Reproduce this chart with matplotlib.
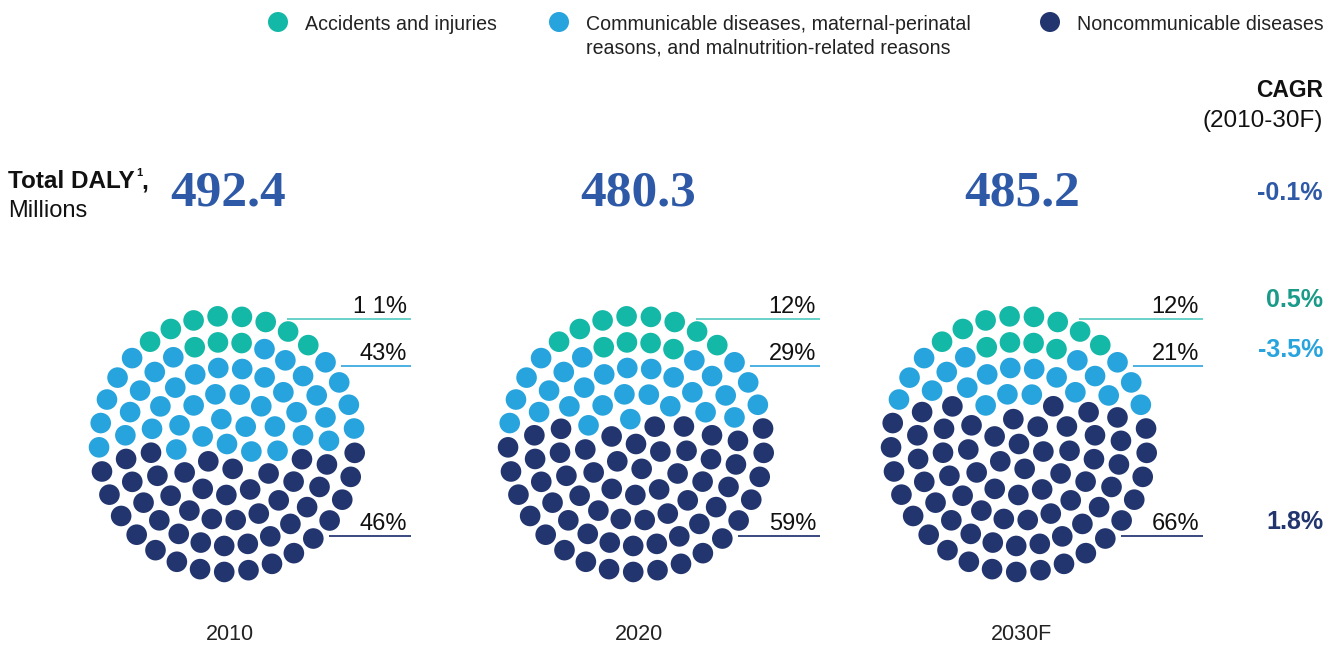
import numpy as np
import matplotlib.pyplot as plt
from matplotlib.patches import Circle

plt.rcParams['font.family'] = ['Liberation Sans', 'DejaVu Sans']

# DALY totals and shares by cause group
years = ['2010', '2020', '2030F']
total_daly = ['492.4', '480.3', '485.2']
share_accidents = [11, 12, 12]
share_communicable = [43, 29, 21]
share_noncommunicable = [46, 59, 66]
share_labels = [['1 1%', '43%', '46%'], ['12%', '29%', '59%'], ['12%', '21%', '66%']]

cagr_total = '-0.1%'
cagr_groups = ['0.5%', '-3.5%', '1.8%']

legend_labels = [['Accidents and injuries'],
                 ['Communicable diseases, maternal-perinatal',
                  'reasons, and malnutrition-related reasons'],
                 ['Noncommunicable diseases']]

dot_colors = ['#14b8a6', '#27a4dd', '#22356e']
line_colors = ['#5ccdc4', '#3eaae0', '#2a3c78']
cagr_colors = ['#1a9a88', '#27a4dd', '#22356e']
number_blue = '#2e59a7'

fig = plt.figure(figsize=(13.35, 6.47), dpi=100)
ax = fig.add_axes([0, 0, 1, 1])
ax.set_xlim(0, 1335)
ax.set_ylim(647, 0)
ax.axis('off')

# 100 dots packed in concentric rings
ring_radius = [0, 25.5, 51, 76.5, 102, 128]
ring_count = [1, 6, 13, 20, 27, 33]
ring_phase = [0, 0.3, 1.1, 0.2, 0.9, 0.45]
dx, dy = [], []
for r, n, ph in zip(ring_radius, ring_count, ring_phase):
    ang = ph + 2 * np.pi * np.arange(n) / n
    dx.extend(r * np.cos(ang))
    dy.extend(r * np.sin(ang))
dx = np.array(dx)
dy = np.array(dy)
n_dots = len(dx)
order = np.lexsort((dx, dy))  # top to bottom (y grows downward)

centers_x = [227, 636, 1019]
cy = 444

for k in range(3):
    cx = centers_x[k]
    n_a = share_accidents[k]
    n_c = share_communicable[k]
    colors = np.empty(n_dots, dtype=object)
    colors[order[:n_a]] = dot_colors[0]
    colors[order[n_a:n_a + n_c]] = dot_colors[1]
    colors[order[n_a + n_c:]] = dot_colors[2]
    for i in range(n_dots):
        ax.add_patch(Circle((cx + dx[i], cy + dy[i]), 10.3, color=colors[i], lw=0))

    # leader lines with share labels
    line_end = cx + 184
    line_specs = [(319, cx + 60), (366, cx + 114), (536, cx + 102)]
    for j, (ly, lx0) in enumerate(line_specs):
        ax.plot([lx0, line_end], [ly, ly], color=line_colors[j], lw=1.3,
                solid_capstyle='butt')
        ax.text(line_end - 4, ly - 6, share_labels[k][j], ha='right', va='baseline',
                fontsize=17, color='#111111')

    ax.text(cx + 3, 634, years[k], ha='center', va='center', fontsize=15.5,
            color='#222222')

# total DALY numbers
number_x = [228, 638, 1022]
for k in range(3):
    ax.text(number_x[k], 193, total_daly[k], ha='center', va='center',
            fontsize=37, fontweight='bold', family='Liberation Serif',
            color=number_blue)

ax.text(8, 188, 'Total DALY', ha='left', va='baseline', fontsize=17.5,
        fontweight='bold', color='#111111')
ax.text(136, 176, '1', ha='left', va='baseline', fontsize=8,
        fontweight='bold', color='#111111')
ax.text(141, 188, ',', ha='left', va='baseline', fontsize=17.5,
        fontweight='bold', color='#111111')
ax.text(8, 217, 'Millions', ha='left', va='baseline', fontsize=17, color='#111111')

# CAGR column
ax.text(1323, 97, 'CAGR', ha='right', va='baseline', fontsize=16.5,
        fontweight='bold', color='#111111')
ax.text(1323, 127, '(2010-30F)', ha='right', va='baseline', fontsize=17.5,
        color='#111111')
ax.text(1323, 200, cagr_total, ha='right', va='baseline', fontsize=18,
        fontweight='bold', color=number_blue)
for j, ly in enumerate([307, 357, 529]):
    ax.text(1323, ly, cagr_groups[j], ha='right', va='baseline', fontsize=18,
            fontweight='bold', color=cagr_colors[j])

# legend
legend_x = [278, 559, 1050]
for j in range(3):
    ax.add_patch(Circle((legend_x[j], 22), 10, color=dot_colors[j], lw=0))
    for m, line in enumerate(legend_labels[j]):
        ax.text(legend_x[j] + 27, 30 + 23 * m, line, ha='left', va='baseline',
                fontsize=14.1, color='#222222')

plt.savefig('out.png', dpi=100)
